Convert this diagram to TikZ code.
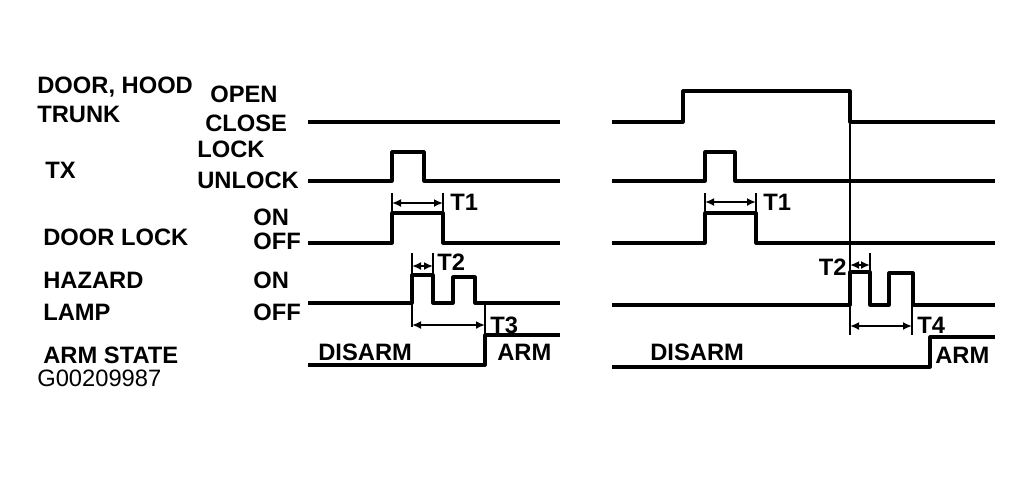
\documentclass[tikz,border=0pt]{standalone}
\usepackage{fontspec}
\setmainfont{Liberation Sans}
\usetikzlibrary{positioning,arrows.meta}

\begin{document}
\begin{tikzpicture}[
    x=0.02cm, y=-0.02cm,
    font=\fontsize{13.5}{15}\selectfont\bfseries,
    lbl/.style={anchor=base west, inner sep=0pt},
    lblr/.style={anchor=base east, inner sep=0pt},
    wave/.style={line width=1.8pt, line join=round},
    ext/.style={line width=1.4pt},
    dim/.style={{Latex[length=1.8mm,width=1.6mm]}-{Latex[length=1.8mm,width=1.6mm]}, line width=1.4pt}
]
\useasboundingbox (0,0) rectangle (1034,478);

% Signal names
\node[lbl] (door) at (37,93) {DOOR, HOOD};
\node[lbl] (trunk) at (37,122) {TRUNK};
\node[lbl] (tx) at (45,178) {TX};
\node[lbl] (dlock) at (43,245) {DOOR LOCK};
\node[lbl] (hazard) at (43,288) {HAZARD};
\node[lbl] (lamp) at (43,320) {LAMP};
\node[lbl] (armst) at (43,363) {ARM STATE};
\node[lbl, font=\fontsize{13.5}{15}\selectfont] (gnum) at (37,386) {G00209987};

% Levels
\node[lbl] (open) at (210,102) {OPEN};
\node[lbl] (close) at (205,131) {CLOSE};
\node[lbl] (lock) at (197,157) {LOCK};
\node[lbl] (unlock) at (197,188) {UNLOCK};
\node[lbl] (on1) at (253,225) {ON};
\node[lbl] (off1) at (253,249) {OFF};
\node[lbl] (on2) at (253,288) {ON};
\node[lbl] (off2) at (253,320) {OFF};

% Left panel: waveforms
\draw[wave] (308,122) -- (560,122);
\draw[wave] (308,181) -- (392,181) -- (392,152) -- (424,152) -- (424,181) -- (560,181);
\draw[wave] (308,243) -- (392,243) -- (392,213) -- (443,213) -- (443,243) -- (560,243);
\draw[wave] (308,303) -- (412,303) -- (412,275) -- (433,275) -- (433,303) -- (453,303)
    -- (453,277) -- (475,277) -- (475,303) -- (560,303);
\draw[wave] (308,365) -- (485,365) -- (485,335) -- (560,335);

% Left panel: timings
\coordinate (t1a) at (392,203);
\coordinate (t1b) at (443,203);
\coordinate (t2a) at (412,266);
\coordinate (t2b) at (433,266);
\coordinate (t3a) at (412,325);
\coordinate (t3b) at (485,325);
\draw[ext] (392,193) -- (392,213) (443,193) -- (443,213);
\draw[ext] (412,253) -- (412,327) (433,253) -- (433,275) (485,303) -- (485,335);
\draw[dim] (t1a) -- (t1b);
\draw[dim] (t2a) -- (t2b);
\draw[dim] (t3a) -- (t3b);
\node[lbl] (t1l) at (450,210) {T1};
\node[lbl] (t2l) at (437,270) {T2};
\node[lbl] (t3l) at (490,333) {T3};
\node[lbl] (disl) at (318,360) {DISARM};
\node[lbl] (arml) at (497,360) {ARM};

% Right panel: waveforms
\draw[wave] (612,122) -- (683,122) -- (683,91) -- (850,91) -- (850,122) -- (995,122);
\draw[wave] (612,181) -- (705,181) -- (705,152) -- (735,152) -- (735,181) -- (995,181);
\draw[wave] (612,243) -- (705,243) -- (705,213) -- (756,213) -- (756,243) -- (995,243);
\draw[wave] (612,305) -- (850,305) -- (850,272) -- (870,272) -- (870,305) -- (889,305)
    -- (889,273) -- (913,273) -- (913,305) -- (995,305);
\draw[wave] (612,367) -- (930,367) -- (930,337) -- (995,337);

% Right panel: timings
\coordinate (r1a) at (705,202);
\coordinate (r1b) at (756,202);
\coordinate (r2a) at (850,265);
\coordinate (r2b) at (870,265);
\coordinate (r4a) at (850,326);
\coordinate (r4b) at (912,326);
\draw[ext] (850,122) -- (850,335);
\draw[ext] (705,193) -- (705,213) (756,193) -- (756,213);
\draw[ext] (870,253) -- (870,272) (912,305) -- (912,335);
\draw[dim] (r1a) -- (r1b);
\draw[dim] (r2a) -- (r2b);
\draw[dim] (r4a) -- (r4b);
\node[lbl] (t1r) at (763,210) {T1};
\node[lblr] (t2r) at (847,275) {T2};
\node[lbl] (t4r) at (917,333) {T4};
\node[lbl] (disr) at (650,360) {DISARM};
\node[lbl] (armr) at (935,363) {ARM};

\end{tikzpicture}
\end{document}
